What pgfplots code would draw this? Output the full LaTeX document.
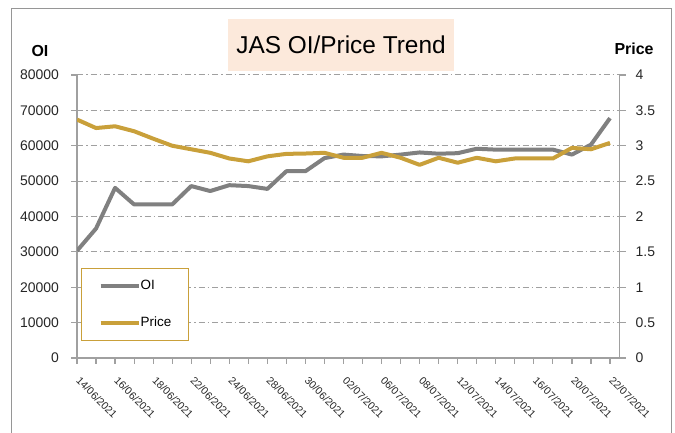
\documentclass[border=0pt]{standalone}
\usepackage{pgfplots}
\usepackage{pgfplotstable}
\pgfplotsset{compat=1.18}
\usepackage{fontspec}
\setmainfont{Liberation Sans}
\definecolor{oigray}{RGB}{128,128,128}
\definecolor{gold}{RGB}{201,160,58}
\definecolor{axgray}{RGB}{160,160,160}
\definecolor{peach}{RGB}{252,233,219}
\definecolor{bordergray}{RGB}{150,150,150}

\pgfplotstableread{
x oi price
0 30300 3.37
1 36600 3.25
2 48100 3.275
3 43400 3.205
4 43400 3.10
5 43400 3.00
6 48600 2.95
7 47200 2.90
8 48850 2.82
9 48600 2.78
10 47800 2.85
11 52800 2.885
12 52800 2.89
13 56500 2.90
14 57500 2.83
15 57100 2.83
16 57000 2.90
17 57500 2.83
18 58100 2.73
19 57750 2.83
20 57900 2.76
21 59150 2.83
22 58900 2.78
23 58900 2.82
24 58900 2.82
25 58900 2.82
26 57500 2.97
27 60300 2.95
28 67800 3.04
}\data

\begin{document}
\begin{tikzpicture}[x=1bp,y=1bp]
\useasboundingbox (0,0) rectangle (675,433);
\draw[bordergray, line width=1bp] (11,-2) -- (11,424) -- (671.5,424) -- (671.5,-2);

\pgfplotsset{
  common/.style={
    at={(77bp,75bp)}, anchor=south west,
    scale only axis, width=542.5bp, height=283bp,
    xmin=0, xmax=28.5,
    tick align=outside,
    major tick length=6bp,
    tick style={axgray, line width=1.2bp},
    axis line style={axgray, line width=1.2bp},
    /pgf/number format/assume math mode=true,
  },
}

\begin{axis}[common,
  ymin=0, ymax=80000,
  axis y line*=left, axis x line*=bottom,
  ytick={0,10000,20000,30000,40000,50000,60000,70000,80000},
  scaled y ticks=false,
  yticklabel style={/pgf/number format/fixed, /pgf/number format/1000 sep={},
    font=\fontsize{14}{14}\selectfont, inner sep=0pt, xshift=-12bp, text=black!85},
  xtick={0,...,28},
  xticklabels={14/06/2021,,16/06/2021,,18/06/2021,,22/06/2021,,24/06/2021,,28/06/2021,,30/06/2021,,02/07/2021,,06/07/2021,,08/07/2021,,12/07/2021,,14/07/2021,,16/07/2021,,20/07/2021,,22/07/2021},
  xticklabel style={font=\fontsize{10.5}{10.5}\selectfont, xshift=4bp, yshift=-12bp, rotate=-45, anchor=north west, inner sep=0pt, text=black!85},
  ymajorgrids,
  grid style={axgray, line width=1bp, dash pattern=on 6bp off 3bp on 1.5bp off 3bp},
]
\addplot[oigray, line width=4bp, line join=round] table[x=x, y=oi] {\data};
\end{axis}

\begin{axis}[common,
  ymin=0, ymax=4,
  axis y line*=right, axis x line=none,
  ytick={0,0.5,1,1.5,2,2.5,3,3.5,4},
  yticklabel style={/pgf/number format/fixed, font=\fontsize{14}{14}\selectfont, anchor=west, inner sep=0pt, xshift=10bp, text=black!85},
  legend style={at={(axis description cs:0.0074,0.318)}, anchor=north west,
    draw=gold, line width=1.2bp, fill=white,
    inner xsep=17bp, inner ysep=11bp,
    nodes={inner sep=0bp, text height=10bp, text depth=3bp},
    font=\fontsize{13.5}{16}\selectfont, row sep=24bp,
    /tikz/every even column/.append style={column sep=3bp}},
  legend cell align=left,
  legend image code/.code={\draw[#1, line width=4bp] (0bp,0bp) -- (38bp,0bp);},
]
\addlegendimage{oigray, line width=4bp}
\addlegendentry{OI}
\addplot[gold, line width=4bp, line join=round] table[x=x, y=price] {\data};
\addlegendentry{Price}
\end{axis}

\node[fill=peach, minimum width=226bp, minimum height=52bp, inner sep=0pt,
  font=\fontsize{24.5}{24.5}\selectfont] at (341,388) {JAS OI/Price Trend};
\node[font=\bfseries\fontsize{16}{16}\selectfont] at (40,382) {OI};
\node[font=\bfseries\fontsize{16}{16}\selectfont] at (634,384) {Price};
\end{tikzpicture}
\end{document}
